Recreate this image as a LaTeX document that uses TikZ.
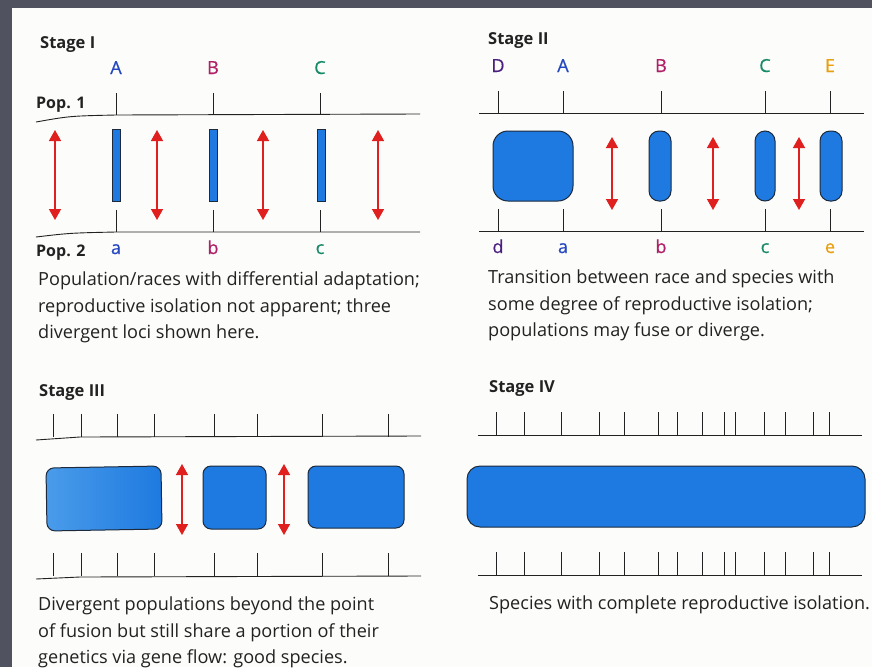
\documentclass[tikz,border=0pt]{standalone}
\usepackage{fontspec}
\setmainfont{Open Sans}
\newfontfamily\locfont[FakeBold=0.6]{Open Sans}
\usetikzlibrary{arrows.meta}
\definecolor{frame}{HTML}{50525F}
\definecolor{paper}{HTML}{FCFCFA}
\definecolor{popblue}{HTML}{1E7AE0}
\definecolor{lightblue}{HTML}{4A9CEA}
\definecolor{edge}{HTML}{1C2A3C}
\definecolor{arrred}{HTML}{E0201E}
\definecolor{lA}{HTML}{2547C0}
\definecolor{lB}{HTML}{B02068}
\definecolor{lC}{HTML}{178A68}
\definecolor{lD}{HTML}{4A1F80}
\definecolor{lE}{HTML}{E8A010}
\definecolor{ink}{HTML}{222222}
\begin{document}
\begin{tikzpicture}[x=1pt,y=-1pt,
  stagelbl/.style={anchor=base west,inner sep=0pt,font=\fontsize{16.5}{19}\selectfont\bfseries,text=ink},
  poplbl/.style={anchor=base west,inner sep=0pt,font=\fontsize{16}{18}\selectfont\bfseries,text=ink},
  locus/.style={anchor=base,inner sep=0pt,font=\fontsize{18}{20}\selectfont\locfont},
  caption/.style={anchor=base west,inner sep=0pt,font=\fontsize{18.1}{21}\selectfont,text=ink},
  chrom/.style={draw=ink,line width=0.9pt},
  tick/.style={draw=ink,line width=0.8pt},
  bar/.style={fill=popblue,draw=edge,line width=1pt},
  flow/.style={draw=arrred,line width=1.5pt,{Triangle[width=12pt,length=11pt]}-{Triangle[width=12pt,length=11pt]}}
]
\useasboundingbox (0,0) rectangle (872,667);
\fill[frame] (0,0) rectangle (872,667);
\fill[paper] (12,8) rectangle (872,667);

% ---------------- Stage I ----------------
\node[stagelbl] (s1) at (40,48) {Stage I};
\node[locus,text=lA] (IA) at (116,74) {A};
\node[locus,text=lB] (IB) at (213,74) {B};
\node[locus,text=lC] (IC) at (320,74) {C};
\node[poplbl] (p1) at (36,108) {Pop. 1};
\draw[chrom] (36,122) .. controls (70,116) .. (116,115) -- (420,114);
\foreach \x in {116,213,320} \draw[tick] (\x,93) -- (\x,115);
\foreach \x in {112,209,317} \draw[bar] (\x,129) rectangle ++(8,72);
\foreach \x/\n in {55/a1,157/a2,263/a3,378/a4} {
  \coordinate (\n t) at (\x,130); \coordinate (\n b) at (\x,220);
  \draw[flow] (\n t) -- (\n b);}
\foreach \x in {116,213,320} \draw[tick] (\x,210) -- (\x,232);
\draw[chrom] (36,237) .. controls (70,233) .. (116,232) -- (420,232);
\node[poplbl] (p2) at (36,256) {Pop. 2};
\node[locus,text=lA] (Ia) at (116,254) {a};
\node[locus,text=lB] (Ib) at (213,254) {b};
\node[locus,text=lC] (Ic) at (320,254) {c};
\node[caption] (c1a) at (38,285) {Population/races with differential adaptation;};
\node[caption] (c1b) at (38,312) {reproductive isolation not apparent; three};
\node[caption] (c1c) at (38,338) {divergent loci shown here.};

% ---------------- Stage II ----------------
\node[stagelbl] (s2) at (488,44) {Stage II};
\node[locus,text=lD] (IID) at (498,72) {D};
\node[locus,text=lA] (IIA) at (563,72) {A};
\node[locus,text=lB] (IIB) at (661,72) {B};
\node[locus,text=lC] (IIC) at (765,72) {C};
\node[locus,text=lE] (IIE) at (830,72) {E};
\draw[chrom] (479,113) -- (864,113);
\foreach \x in {498,563,661,765,830} \draw[tick] (\x,91) -- (\x,113);
\draw[bar,rounded corners=15pt] (493,131) rectangle (573,201);
\draw[bar,rounded corners=10pt] (649,131) rectangle (671,201);
\draw[bar,rounded corners=10pt] (755,131) rectangle (775,201);
\draw[bar,rounded corners=10pt] (820,131) rectangle (842,201);
\foreach \x/\n in {612/b1,713/b2,799/b3} {
  \coordinate (\n t) at (\x,137); \coordinate (\n b) at (\x,210);
  \draw[flow] (\n t) -- (\n b);}
\foreach \x in {498,563,661,765,830} \draw[tick] (\x,209) -- (\x,231);
\draw[chrom] (479,231) -- (864,231);
\node[locus,text=lD] (IId) at (498,253) {d};
\node[locus,text=lA] (IIa) at (563,253) {a};
\node[locus,text=lB] (IIb) at (661,253) {b};
\node[locus,text=lC] (IIc) at (765,253) {c};
\node[locus,text=lE] (IIe) at (830,253) {e};
\node[caption] (c2a) at (488,283) {Transition between race and species with};
\node[caption] (c2b) at (488,310) {some degree of reproductive isolation;};
\node[caption] (c2c) at (488,336) {populations may fuse or diverge.};

% ---------------- Stage III ----------------
\node[stagelbl] (s3) at (39,396) {Stage III};
\draw[chrom] (36,440) -- (80,437) -- (421,436);
\foreach \x in {53,81,117,154,214,257,322,388} \draw[tick] (\x,414) -- (\x,437);
\draw[draw=edge,line width=1pt,left color=lightblue,right color=popblue,rounded corners=8pt] (46,468) -- (161,466) -- (162,529) -- (47,531) -- cycle;
\draw[bar,rounded corners=8pt] (203,466) rectangle (266,529);
\draw[bar,rounded corners=8pt] (308,466) rectangle (404,528);
\foreach \x/\n in {182/c1,284/c2} {
  \coordinate (\n t) at (\x,464); \coordinate (\n b) at (\x,535);
  \draw[flow] (\n t) -- (\n b);}
\foreach \x in {53,81,117,154,214,257,322,388} \draw[tick] (\x,553) -- (\x,576);
\draw[chrom] (36,579) -- (80,577) -- (421,576);
\node[caption] (c3a) at (38,610) {Divergent populations beyond the point};
\node[caption] (c3b) at (38,637) {of fusion but still share a portion of their};
\node[caption] (c3c) at (38,663) {genetics via gene flow: good species.};

% ---------------- Stage IV ----------------
\node[stagelbl] (s4) at (489,392) {Stage IV};
\draw[chrom] (478,435) -- (862,435);
\foreach \x in {496,524,561,599,624,658,677,702,724,735,764,785,813,829} \draw[tick] (\x,412) -- (\x,435);
\draw[bar,rounded corners=13pt] (467,466) rectangle (865,527);
\foreach \x in {496,524,561,599,624,658,677,702,724,735,764,785,813,829} \draw[tick] (\x,552) -- (\x,575);
\draw[chrom] (478,575) -- (862,575);
\node[caption] (c4a) at (489,609) {Species with complete reproductive isolation.};
\end{tikzpicture}
\end{document}
